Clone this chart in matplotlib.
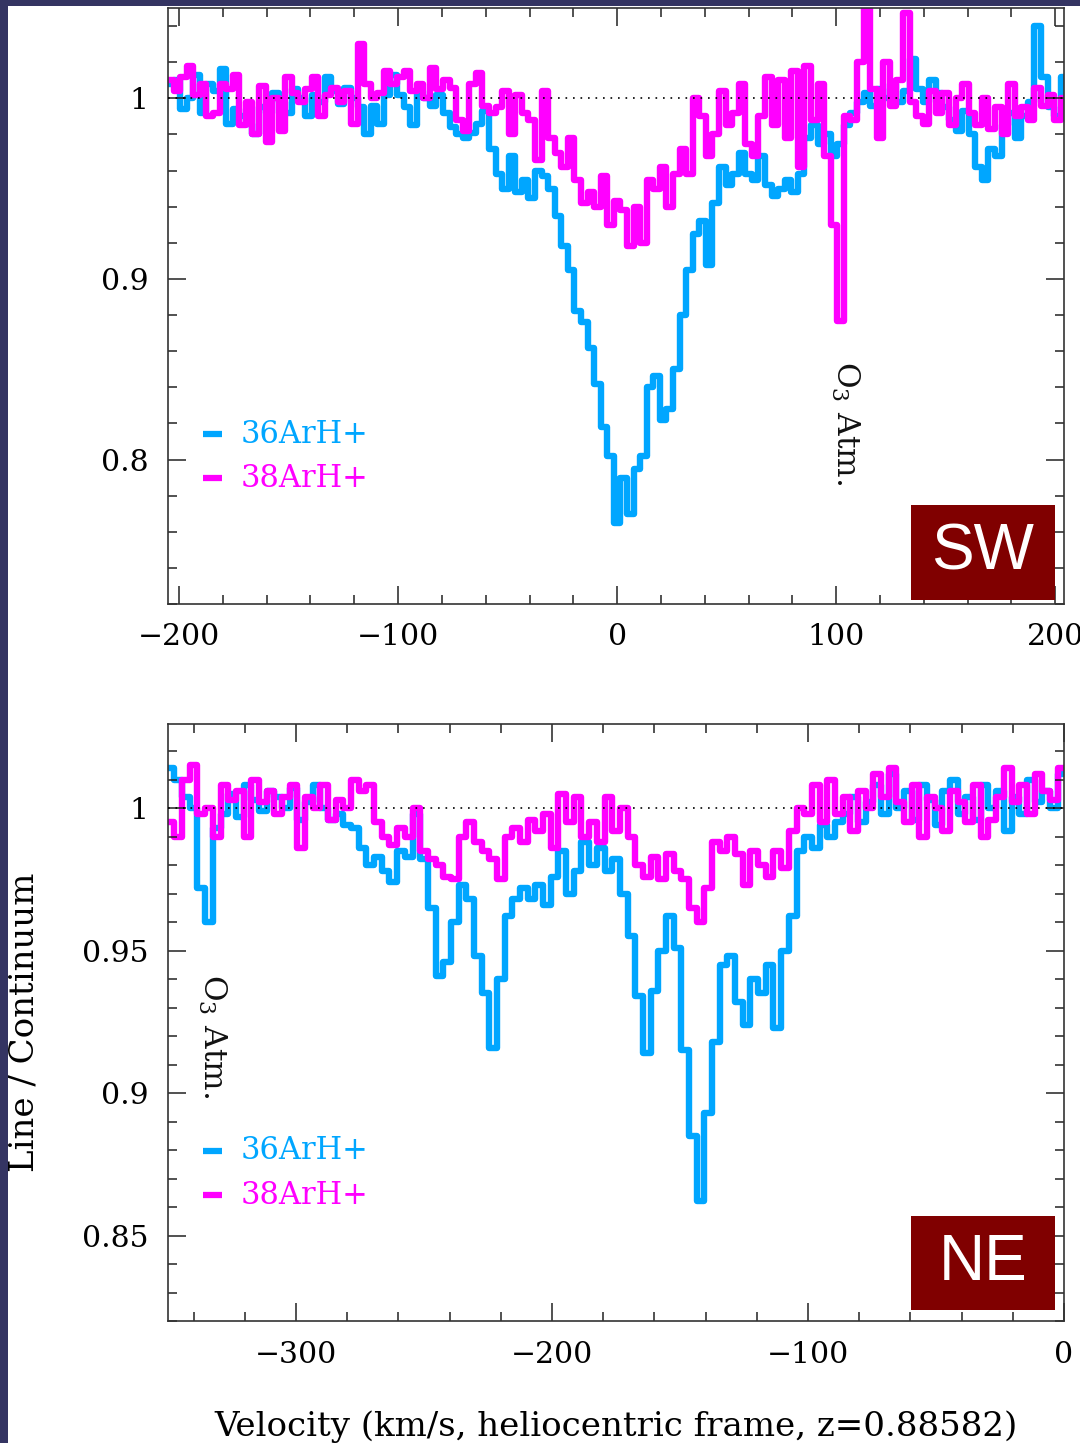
import numpy as np
import matplotlib
matplotlib.use('Agg')
import matplotlib.pyplot as plt
from matplotlib.patches import Rectangle
from matplotlib.ticker import FixedLocator, MultipleLocator

plt.rcParams['font.family'] = 'DejaVu Serif'
plt.rcParams['mathtext.fontset'] = 'dejavuserif'

# SW panel: channels of 3 km/s, first channel centred on -204 km/s
sw_v0 = -204
sw_dv = 3
sw_36 = [1.008, 1.010, 0.994, 1.000, 1.013, 0.992, 1.008, 1.004, 1.016, 0.986,
         0.994, 0.990, 0.986, 0.980, 0.995, 0.992, 1.003, 0.998, 0.992, 1.005,
         1.000, 0.990, 1.002, 0.998, 1.012, 1.004, 0.997, 1.006, 1.000, 0.995,
         0.980, 0.996, 0.986, 1.002, 1.013, 1.002, 0.995, 0.985, 1.004, 1.000,
         0.996, 1.002, 0.992, 0.984, 0.980, 0.978, 0.981, 0.986, 0.993, 0.972,
         0.958, 0.950, 0.968, 0.948, 0.955, 0.945, 0.960, 0.957, 0.950, 0.935,
         0.918, 0.905, 0.882, 0.876, 0.862, 0.842, 0.818, 0.802, 0.765, 0.790,
         0.770, 0.795, 0.802, 0.840, 0.846, 0.822, 0.828, 0.850, 0.880, 0.905,
         0.925, 0.932, 0.908, 0.942, 0.962, 0.952, 0.958, 0.970, 0.958, 0.955,
         0.968, 0.952, 0.946, 0.950, 0.955, 0.948, 0.958, 0.978, 0.985, 0.975,
         0.980, 0.968, 0.975, 0.985, 0.992, 0.998, 1.003, 0.996, 1.005, 1.000,
         1.008, 0.998, 1.004, 1.022, 1.005, 0.998, 1.010, 1.003, 0.995, 0.988,
         0.982, 0.993, 0.980, 0.962, 0.955, 0.972, 0.968, 0.985, 0.992, 0.978,
         0.990, 0.998, 1.040, 1.012, 0.995, 0.990, 1.012]
sw_38 = [1.010, 1.004, 1.012, 1.018, 1.002, 1.008, 0.990, 0.992, 1.008, 1.005,
         1.013, 0.985, 0.998, 0.980, 1.007, 0.976, 1.000, 0.982, 1.012, 1.003,
         0.998, 1.005, 1.012, 0.990, 1.002, 1.006, 0.998, 1.004, 0.986, 1.030,
         1.008, 1.000, 1.003, 1.015, 1.008, 1.012, 1.015, 1.004, 1.008, 1.000,
         1.017, 1.005, 1.010, 1.006, 0.988, 0.982, 1.008, 1.014, 0.996, 0.992,
         0.995, 1.004, 0.980, 1.002, 0.992, 0.988, 0.966, 1.004, 0.978, 0.970,
         0.962, 0.978, 0.955, 0.942, 0.948, 0.940, 0.957, 0.930, 0.943, 0.938,
         0.918, 0.940, 0.920, 0.955, 0.950, 0.962, 0.940, 0.958, 0.972, 0.958,
         1.000, 0.990, 0.968, 0.980, 1.004, 0.985, 0.992, 1.008, 0.975, 0.968,
         0.990, 1.012, 0.985, 1.010, 0.978, 1.015, 0.962, 1.018, 0.988, 1.008,
         0.968, 0.930, 0.877, 0.990, 0.988, 1.020, 1.050, 1.005, 0.978, 1.020,
         0.996, 1.010, 1.047, 0.998, 0.990, 0.986, 1.004, 0.992, 1.003, 0.985,
         1.000, 1.008, 0.992, 0.985, 1.000, 0.983, 0.995, 0.980, 1.008, 0.990,
         0.995, 0.988, 1.006, 0.996, 1.002, 0.988, 1.000]

# NE panel: channels of 3 km/s, first channel centred on -349 km/s
ne_v0 = -349
ne_dv = 3
ne_36 = [1.014, 1.010, 1.004, 1.000, 0.972, 0.960, 0.993, 0.998, 1.005, 0.997,
         1.008, 1.003, 0.999, 1.006, 1.004, 1.000, 1.007, 0.996, 1.002, 1.008,
         1.000, 0.996, 0.998, 0.994, 0.993, 0.986, 0.980, 0.983, 0.978, 0.974,
         0.985, 0.983, 0.998, 0.982, 0.965, 0.941, 0.946, 0.960, 0.973, 0.968,
         0.948, 0.935, 0.916, 0.940, 0.962, 0.968, 0.972, 0.968, 0.973, 0.966,
         0.976, 0.985, 0.970, 0.978, 0.988, 0.980, 0.986, 0.978, 0.982, 0.970,
         0.955, 0.934, 0.914, 0.936, 0.950, 0.962, 0.951, 0.915, 0.885, 0.862,
         0.893, 0.918, 0.945, 0.948, 0.932, 0.924, 0.940, 0.935, 0.945, 0.923,
         0.950, 0.962, 0.985, 0.990, 0.986, 0.994, 0.990, 0.995, 0.998, 1.004,
         0.995, 1.002, 1.008, 0.998, 1.012, 1.000, 1.006, 0.996, 1.008, 1.003,
         0.994, 1.006, 1.010, 0.998, 1.004, 0.996, 1.008, 1.000, 1.006, 0.992,
         1.004, 0.998, 1.010, 1.002, 1.006, 1.000, 1.012]
ne_38 = [0.995, 0.990, 1.010, 1.015, 0.998, 1.000, 0.990, 1.008, 1.003, 1.006,
         0.990, 1.010, 1.002, 1.006, 0.998, 1.004, 1.008, 0.986, 1.004, 1.000,
         1.008, 0.996, 1.003, 1.000, 1.010, 1.006, 1.008, 0.995, 0.990, 0.987,
         0.993, 0.990, 1.000, 0.985, 0.982, 0.980, 0.976, 0.975, 0.990, 0.995,
         0.988, 0.985, 0.982, 0.975, 0.990, 0.993, 0.988, 0.996, 0.992, 0.998,
         0.986, 1.005, 0.995, 1.004, 0.990, 0.995, 0.988, 1.004, 0.992, 1.000,
         0.990, 0.980, 0.976, 0.983, 0.975, 0.984, 0.978, 0.975, 0.965, 0.960,
         0.972, 0.988, 0.985, 0.990, 0.984, 0.973, 0.985, 0.980, 0.976, 0.985,
         0.979, 0.992, 1.000, 0.998, 1.008, 0.995, 1.010, 0.998, 1.004, 0.992,
         1.006, 1.000, 1.012, 1.004, 1.014, 1.002, 0.995, 1.008, 0.990, 1.004,
         1.000, 0.992, 1.006, 1.002, 0.995, 1.008, 0.990, 0.996, 1.004, 1.014,
         1.002, 1.008, 0.998, 1.012, 1.006, 1.003, 1.014]

species = ['36ArH+', '38ArH+']
colors = ['#00a6ff', '#ff00ff']

fig = plt.figure(figsize=(10.8, 14.43), dpi=100)
ax1 = fig.add_axes([0.1556, 0.5814, 0.8296, 0.4130])
ax2 = fig.add_axes([0.1556, 0.0845, 0.8296, 0.4137])


def draw_panel(ax, v0, dv, series, xlim, ylim, xticks, yticks, ylabs, ymin, name, box_y, o3_pos):
    for vals, c in zip(series, colors):
        edges = v0 - dv / 2 + dv * np.arange(len(vals) + 1)
        ax.stairs(vals, edges, baseline=None, color=c, lw=4.6,
                  joinstyle='round', capstyle='round')
    ax.axhline(1, color='k', lw=1.2, ls=(0, (1, 3.5)), zorder=4)
    ax.set_xlim(*xlim)
    ax.set_ylim(*ylim)
    ax.xaxis.set_major_locator(FixedLocator(xticks))
    ax.xaxis.set_minor_locator(MultipleLocator(20))
    ax.set_xticklabels(['\u2212%d' % -t if t < 0 else '%d' % t for t in xticks])
    ax.yaxis.set_major_locator(FixedLocator(yticks))
    ax.yaxis.set_minor_locator(MultipleLocator(ymin))
    ax.set_yticklabels(ylabs)
    ax.tick_params(which='both', direction='in', top=True, right=True,
                   width=1.1, color='#222222', labelsize=21.5, pad=14)
    ax.tick_params(which='major', length=13)
    ax.tick_params(which='minor', length=6.5)
    for s in ax.spines.values():
        s.set_linewidth(1.2)
        s.set_color('#333333')

    # legend
    for k, (lab, c) in enumerate(zip(species, colors)):
        yy = 0.285 - 0.074 * k
        ax.plot([0.039, 0.060], [yy, yy], color=c, lw=4.5, transform=ax.transAxes,
                solid_capstyle='butt')
        ax.text(0.0815, yy, lab, color=c, fontsize=22, va='center', ha='left',
                transform=ax.transAxes)

    # region label box
    ax.add_patch(Rectangle((0.829, box_y[0]), 0.161, box_y[1] - box_y[0],
                           transform=ax.transAxes, facecolor='#800000',
                           edgecolor='none', zorder=5))
    ax.text(0.9095, (box_y[0] + box_y[1]) / 2, name, color='white', fontsize=46,
            family='Liberation Sans', ha='center', va='center',
            transform=ax.transAxes, zorder=6)

    ax.text(o3_pos[0], o3_pos[1], 'O$_3$ Atm.', rotation=-90, fontsize=22.5,
            ha='center', va='center', color='#111111')


draw_panel(ax1, sw_v0, sw_dv, [sw_36, sw_38], (-205, 204), (0.72, 1.05),
           [-200, -100, 0, 100, 200], [0.8, 0.9, 1.0], ['0.8', '0.9', '1'],
           0.02, 'SW', (0.0067, 0.166), (104, 0.820))
draw_panel(ax2, ne_v0, ne_dv, [ne_36, ne_38], (-350, 0), (0.82, 1.0295),
           [-300, -200, -100, 0], [0.85, 0.9, 0.95, 1.0],
           ['0.85', '0.9', '0.95', '1'], 0.01, 'NE', (0.018, 0.176), (-333, 0.920))

fig.text(0.023, 0.2918, 'Line / Continuum', rotation=90, fontsize=24.5,
         ha='center', va='center')
fig.text(0.570, 0.005, 'Velocity (km/s, heliocentric frame, z=0.88582)',
         fontsize=24.5, ha='center', va='baseline')

# dark frame strips on the left and top edges
fig.add_artist(Rectangle((0, 0), 8 / 1080, 1, transform=fig.transFigure,
                         facecolor='#343462', edgecolor='none', zorder=10))
fig.add_artist(Rectangle((0, 1 - 6 / 1443), 1, 6 / 1443, transform=fig.transFigure,
                         facecolor='#343462', edgecolor='none', zorder=10))

fig.savefig('out.png', dpi=100)
